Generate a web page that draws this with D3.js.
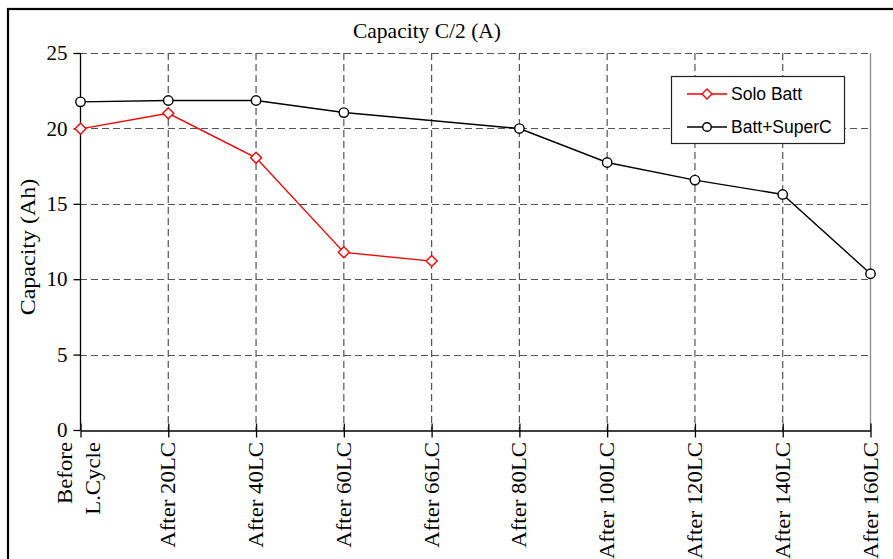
<!DOCTYPE html>
<html>
<head>
<meta charset="utf-8">
<script src="https://cdn.jsdelivr.net/npm/d3@7/dist/d3.min.js"></script>
<style>
  html, body { margin: 0; padding: 0; background: #fff; }
  svg { display: block; }
</style>
</head>
<body>
<svg id="chart" width="893" height="559"></svg>
<script>
const categories = ["Before|L.Cycle", "After 20LC", "After 40LC", "After 60LC", "After 66LC",
  "After 80LC", "After 100LC", "After 120LC", "After 140LC", "After 160LC"];
const soloBatt = [19.97, 21.0, 18.05, 11.78, 11.2, null, null, null, null, null];
const battSuperC = [21.76, 21.85, 21.85, 21.05, null, 19.99, 17.74, 16.57, 15.62, 10.36];
const yTicks = [0, 5, 10, 15, 20, 25];
const seriesNames = ["Solo Batt", "Batt+SuperC"];
const titleText = "Capacity C/2 (A)";
const yLabel = "Capacity (Ah)";

const svg = d3.select("#chart");
const serif = "'Liberation Serif', 'Times New Roman', serif";
const sans = "'Liberation Sans', Arial, sans-serif";

// outer frame
svg.append("rect").attr("x", 8).attr("y", 9).attr("width", 900).attr("height", 570)
  .attr("fill", "#fff").attr("stroke", "#000").attr("stroke-width", 2.2);

const x = d3.scalePoint().domain(categories).range([80.5, 870.5]).padding(0);
const y = d3.scaleLinear().domain([0, 25]).range([430, 53]);

// title
svg.append("text").attr("x", 427).attr("y", 38).attr("text-anchor", "middle")
  .attr("font-family", serif).attr("font-size", 21.5).text(titleText);

// gridlines
const grid = svg.append("g");
grid.selectAll("line.h").data(yTicks.filter(d => d > 0)).join("line")
  .attr("x1", 80).attr("x2", 871).attr("y1", d => Math.round(y(d)) + 0.5).attr("y2", d => Math.round(y(d)) + 0.5)
  .attr("stroke", "#555").attr("stroke-width", 1.2).attr("stroke-dasharray", "7,4");
grid.selectAll("line.v").data(categories.slice(1, -1)).join("line")
  .attr("x1", d => x(d)).attr("x2", d => x(d)).attr("y1", y(25)).attr("y2", y(0))
  .attr("stroke", "#555").attr("stroke-width", 1.2).attr("stroke-dasharray", "7,4");
grid.append("line").attr("x1", x(categories[categories.length - 1])).attr("x2", x(categories[categories.length - 1]))
  .attr("y1", y(25)).attr("y2", y(0)).attr("stroke", "#888").attr("stroke-width", 1.3);

// y axis
const yAxis = d3.axisLeft(y).tickValues(yTicks).tickSize(7).tickPadding(6);
const gy = svg.append("g").attr("transform", "translate(80.5,0)").call(yAxis);
gy.select(".domain").attr("stroke", "#000").attr("stroke-width", 1.3).attr("d", `M0,${y(25)}V${y(0)}`);
gy.selectAll(".tick line").attr("stroke", "#000").attr("stroke-width", 1.3);
gy.selectAll(".tick text").attr("font-family", serif).attr("font-size", 21).attr("fill", "#000");

// x axis
const xAxis = d3.axisBottom(x).tickSizeInner(7).tickSizeOuter(0).tickFormat(() => "");
const gx = svg.append("g").attr("transform", "translate(0,430.5)").call(xAxis);
gx.select(".domain").attr("stroke", "#000").attr("stroke-width", 1.3);
gx.selectAll(".tick line").attr("stroke", "#000").attr("stroke-width", 1.3).attr("y1", -7).attr("y2", 7);

// x tick labels (rotated)
const xl = svg.append("g");
categories.forEach(c => {
  const parts = c.split("|");
  const cx = x(c);
  const t = xl.append("text").attr("font-family", serif).attr("font-size", 20)
    .attr("text-anchor", "end").attr("transform", `translate(${cx},442) rotate(-90) scale(1.14,1)`);
  if (parts.length === 1) {
    t.append("tspan").attr("x", 0).attr("dy", "0.35em").text(parts[0]);
  } else {
    t.append("tspan").attr("x", 0).attr("dy", "-0.42em").text(parts[0]);
    t.append("tspan").attr("x", 0).attr("dy", "1.4em").text(parts[1]);
  }
});

// y label
svg.append("text").attr("transform", "translate(35,247) rotate(-90) scale(1.2,1)").attr("text-anchor", "middle")
  .attr("font-family", serif).attr("font-size", 20).text(yLabel);

// lines
const line = d3.line().x(d => x(d.c)).y(d => y(d.v));
const redData = categories.map((c, i) => ({ c, v: soloBatt[i] })).filter(d => d.v != null);
const blkData = categories.map((c, i) => ({ c, v: battSuperC[i] })).filter(d => d.v != null);

svg.append("path").datum(blkData).attr("d", line).attr("fill", "none").attr("stroke", "#000").attr("stroke-width", 1.4);
svg.append("path").datum(redData).attr("d", line).attr("fill", "none").attr("stroke", "#ff0000").attr("stroke-width", 1.4);

function diamondPath(s) { return `M0,${-s}L${s},0L0,${s}L${-s},0Z`; }

svg.append("g").selectAll("circle").data(blkData).join("circle")
  .attr("cx", d => x(d.c)).attr("cy", d => y(d.v)).attr("r", 4.7)
  .attr("fill", "#fff").attr("stroke", "#000").attr("stroke-width", 1.4);
svg.append("g").selectAll("path").data(redData).join("path")
  .attr("transform", d => `translate(${x(d.c)},${y(d.v)})`).attr("d", diamondPath(5.5))
  .attr("fill", "#fff").attr("stroke", "#ff0000").attr("stroke-width", 1.4);

// legend
const lg = svg.append("g");
lg.append("rect").attr("x", 671.5).attr("y", 76.5).attr("width", 173).attr("height", 67)
  .attr("fill", "#fff").attr("stroke", "#222").attr("stroke-width", 1.2);
const rows = [
  { name: seriesNames[0], color: "#ff0000", type: "diamond", y: 94 },
  { name: seriesNames[1], color: "#000", type: "circle", y: 127 }
];
rows.forEach(r => {
  lg.append("line").attr("x1", 687).attr("x2", 727).attr("y1", r.y).attr("y2", r.y)
    .attr("stroke", r.color).attr("stroke-width", 1.4);
  if (r.type === "circle") {
    lg.append("circle").attr("cx", 707).attr("cy", r.y).attr("r", 4.3)
      .attr("fill", "#fff").attr("stroke", r.color).attr("stroke-width", 1.4);
  } else {
    lg.append("path").attr("transform", `translate(707,${r.y})`).attr("d", diamondPath(5))
      .attr("fill", "#fff").attr("stroke", r.color).attr("stroke-width", 1.4);
  }
  lg.append("text").attr("x", 731).attr("y", r.y).attr("dy", "0.36em")
    .attr("font-family", sans).attr("font-size", 17.5).attr("fill", "#000").text(r.name);
});
</script>
</body>
</html>
